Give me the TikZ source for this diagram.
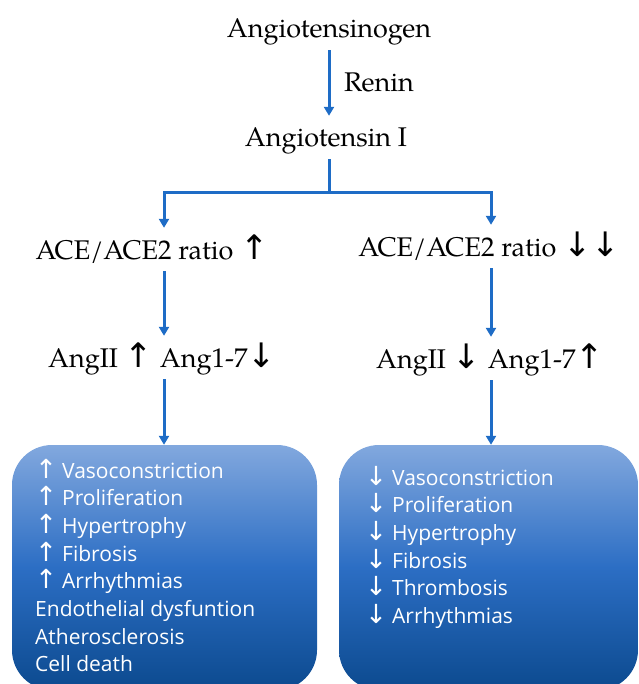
\documentclass[tikz,border=0pt]{standalone}
\usepackage{fontspec}
\setmainfont{TeX Gyre Pagella}
\newfontfamily\boxfont{Open Sans}
\newfontfamily\arrowfont[Scale=1.25]{DejaVu Sans}
\usetikzlibrary{arrows.meta}
\definecolor{flowblue}{RGB}{30,108,198}
\definecolor{boxtop}{RGB}{130,168,222}
\definecolor{boxmid}{RGB}{44,110,196}
\definecolor{boxbot}{RGB}{12,74,143}
\newcommand{\up}{{\arrowfont ↑}}
\newcommand{\dn}{{\arrowfont ↓}}
\newcommand{\upm}{\makebox[27pt][l]{\up}}
\newcommand{\dnm}{\makebox[27pt][l]{\dn}}

\begin{document}
\begin{tikzpicture}[x=1pt,y=-1pt,
  flowline/.style={flowblue,line width=3pt},
  flow/.style={flowline,-{Triangle[width=10pt,length=9pt]}},
  stage/.style={font=\fontsize{27}{32}\selectfont,anchor=base,text height=26pt,text depth=7pt,inner xsep=2pt,inner ysep=5pt},
  effbox/.style={rounded corners=40pt,minimum height=245pt,inner sep=0pt,top color=boxtop,bottom color=boxbot,middle color=boxmid},
  efftext/.style={font=\boxfont\fontsize{21}{26}\selectfont,text=white,anchor=base west,inner sep=0pt}]

  \useasboundingbox (0,0) rectangle (638,684);
  \clip (0,0) rectangle (638,684);

  % Cascade
  \node[stage] (ango) at (329,38) {Angiotensinogen};
  \node[stage] (angi) at (326,147) {Angiotensin I};
  \node[stage,anchor=base west] (renin) at (342,92) {Renin};
  \node[stage] (aceUp) at (152,259) {ACE/ACE2 ratio \up};
  \node[stage] (aceDn) at (489,256) {ACE/ACE2 ratio \dn\dn};
  \node[stage] (angUp) at (162,367) {AngII \up{} Ang1-7\dn};
  \node[stage] (angDn) at (490,368) {AngII \dn{} Ang1-7\up};

  \coordinate (split) at (329,193);
  \coordinate (leftx) at (164,193);
  \coordinate (rightx) at (491,193);

  \draw[flow] (ango.south -| split) -- (angi.north -| split);
  \draw[flowline] (angi.south -| split) -- (split);
  \draw[flow] (split) -- (leftx) -- (leftx |- aceUp.north);
  \draw[flow] (split) -- (rightx) -- (rightx |- aceDn.north);
  \draw[flow] (aceUp.south -| leftx) -- (angUp.north -| leftx);
  \draw[flow] (aceDn.south -| rightx) -- (angDn.north -| rightx);

  % Effects
  \node[effbox,minimum width=305pt] (upbox) at (164.5,567.5) {};
  \node[effbox,minimum width=299pt] (dnbox) at (488.5,567.5) {};
  \draw[flow] (angUp.south -| leftx) -- (upbox.north -| leftx);
  \draw[flow] (angDn.south -| rightx) -- (dnbox.north -| rightx);

  \foreach \eff [count=\i] in {\upm Vasoconstriction,\upm Proliferation,\upm Hypertrophy,
    \upm Fibrosis,\upm Arrhythmias,Endothelial dysfuntion,Atherosclerosis,Cell death}
    \node[efftext] (up\i) at (35,{478+27.7*(\i-1)}) {\eff};
  \foreach \eff [count=\i] in {\dnm Vasoconstriction,\dnm Proliferation,\dnm Hypertrophy,
    \dnm Fibrosis,\dnm Thrombosis,\dnm Arrhythmias}
    \node[efftext] (dn\i) at (365,{485+27.7*(\i-1)}) {\eff};

\end{tikzpicture}
\end{document}
